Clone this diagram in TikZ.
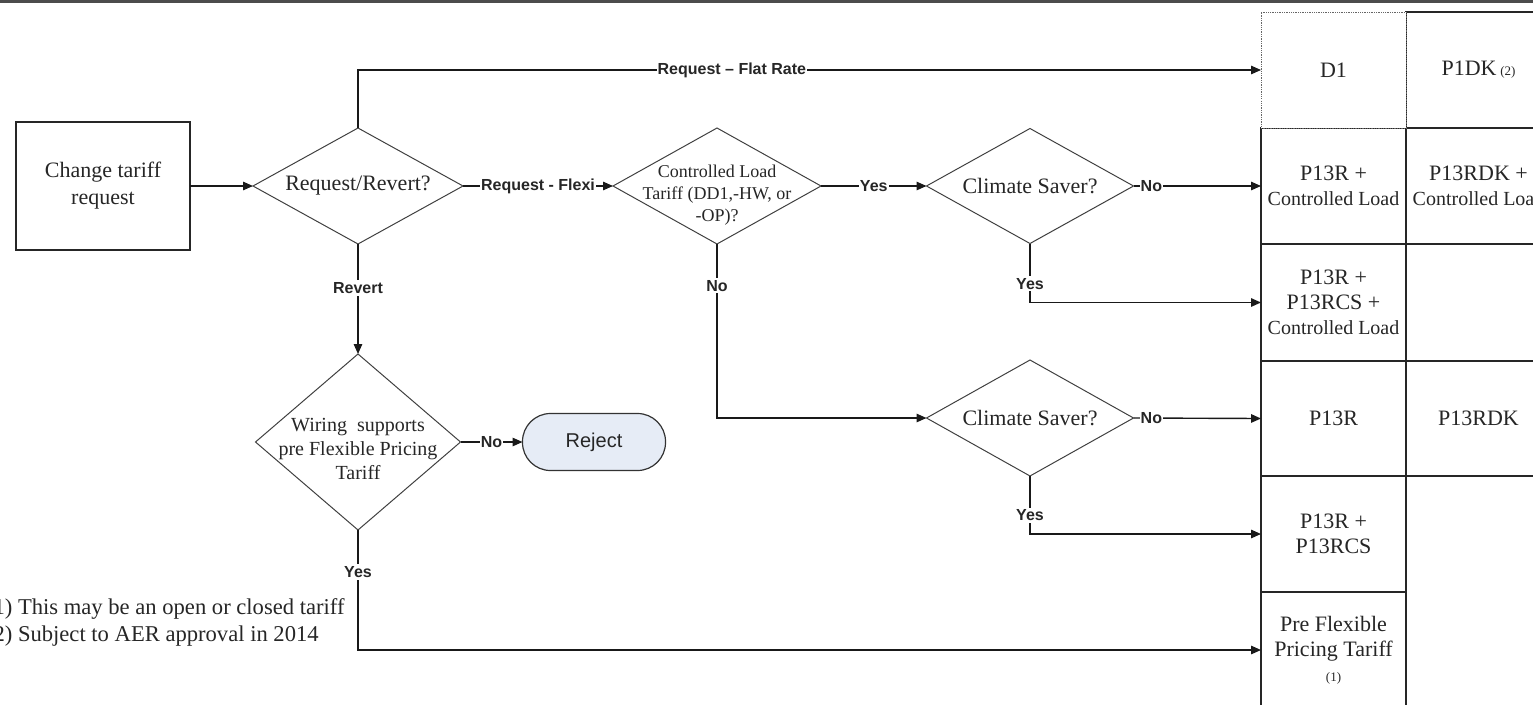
\documentclass[tikz,border=0pt]{standalone}
\usepackage{fontspec}
\setmainfont{Liberation Serif}
\newfontfamily\lsans{Liberation Sans}
\usetikzlibrary{shapes.geometric,arrows.meta}
\definecolor{rejfill}{HTML}{E6ECF6}
\begin{document}
\begin{tikzpicture}[x=1pt,y=-1pt,
  every node/.style={inner sep=0pt, outer sep=0pt},
  conn/.style={line width=1.4pt, black!90},
  arr/.style={conn, -{Triangle[length=10pt,width=8.5pt]}},
  lab/.style={fill=white, font=\lsans\bfseries\fontsize{16}{18}\selectfont, inner xsep=1pt, inner ysep=2pt, text=black!85},
  dia/.style={diamond, draw=black!75, line width=1pt},
  big/.style={font=\fontsize{22}{27}\selectfont, text=black!85, align=center},
  small/.style={font=\fontsize{18}{22}\selectfont, text=black!85, align=center},
  wsmall/.style={font=\fontsize{20}{24}\selectfont, text=black!85, align=center},
  cell/.style={rectangle, draw=black!85, line width=1.3pt, minimum width=145pt, align=center, text=black!85, font=\fontsize{22}{25}\selectfont},
  note/.style={anchor=base west, font=\fontsize{22.6}{26}\selectfont, text=black!85},
]
\useasboundingbox (0,0) rectangle (1533,704);
\draw[line width=3pt, black!70] (0,1.5) -- (1533,1.5);

% start box
\node[draw=black!85, line width=1.2pt, minimum width=174pt, minimum height=128pt, big] (start) at (103,186) {Change tariff\\request};

% decisions
\node[dia, minimum width=210pt, minimum height=116pt, label={[big]center:Request/Revert?}] (rr) at (358,186) {};
\node[dia, minimum width=208pt, minimum height=116pt, label={[small,yshift=-9pt]center:{Controlled Load\\Tariff (DD1,-HW, or\\-OP)?}}] (cl) at (717,186) {};
\node[dia, minimum width=207pt, minimum height=115pt, label={[big]center:Climate Saver?}] (cs1) at (1030,186) {};
\node[dia, minimum width=207pt, minimum height=116pt, label={[big]center:Climate Saver?}] (cs2) at (1030,418) {};
\node[dia, minimum width=205pt, minimum height=176pt, label={[wsmall,yshift=-7pt]center:{Wiring~ supports\\pre Flexible Pricing\\Tariff}}] (w) at (358,442) {};

% reject
\node[draw=black!80, line width=1.2pt, fill=rejfill, rounded corners=28pt, minimum width=143pt, minimum height=57pt, text=black!85, font=\lsans\fontsize{20}{22}\selectfont] (rej) at (594,442) {Reject};

% table right column
\node[cell, minimum height=116pt] (r1) at (1478.5,70) {P1DK\,{\fontsize{13}{15}\selectfont(2)}};
\node[cell, minimum height=116pt] (r2) at (1478.5,186) {P13RDK +\\\fontsize{20}{24}\selectfont Controlled Load};
\node[cell, minimum height=117pt] (r3) at (1478.5,302.5) {};
\node[cell, minimum height=115pt] (r4) at (1478.5,418.5) {P13RDK};
\node[cell, minimum height=232pt] (r5) at (1478.5,592) {};

% table left column
\node[cell, minimum height=116pt] (c2) at (1333.5,186) {P13R +\\\fontsize{20}{24}\selectfont Controlled Load};
\node[cell, minimum height=117pt] (c3) at (1333.5,302.5) {P13R +\\P13RCS +\\\fontsize{20}{26}\selectfont Controlled Load};
\node[cell, minimum height=115pt] (c4) at (1333.5,418.5) {P13R};
\node[cell, minimum height=116pt] (c5) at (1333.5,534) {P13R +\\P13RCS};
\node[cell, minimum height=116pt] (c6) at (1333.5,650) {Pre Flexible\\Pricing Tariff\\\fontsize{13}{30}\selectfont(1)};
\node[cell, draw=black!60, densely dotted, line width=1pt, fill=white, minimum height=116pt] (d1) at (1333.5,70) {D1};

% notes
\node[note] (note1) at (-14,614) {(1) This may be an open or closed tariff};
\node[note] (note2) at (-14,641) {(2) Subject to AER approval in 2014};

% connectors
\draw[arr] (start.east) -- (rr.west);
\draw[arr] (rr.north) |- node[lab,pos=0.707]{Request – Flat Rate} (d1.west);
\draw[arr] (rr.east) -- node[lab]{Request - Flexi} (cl.west);
\draw[arr] (cl.east) -- node[lab]{Yes} (cs1.west);
\draw[arr] (cs1.east) -- node[lab,pos=0.14]{No} (c2.west);
\draw[arr] (cs1.south) |- node[lab,pos=0.34]{Yes} (c3.west);
\draw[arr] (cl.south) |- node[lab,pos=0.12]{No} (cs2.west);
\draw[arr] (cs2.east) -- node[lab,pos=0.14]{No} (c4.west);
\draw[arr] (cs2.south) |- node[lab,pos=0.34]{Yes} (c5.west);
\draw[arr] (rr.south) -- node[lab,pos=0.4]{Revert} (w.north);
\draw[arr] (w.east) -- node[lab]{No} (rej.west);
\draw[arr] (w.south) |- node[lab,pos=0.175]{Yes} (c6.west);
\end{tikzpicture}
\end{document}
